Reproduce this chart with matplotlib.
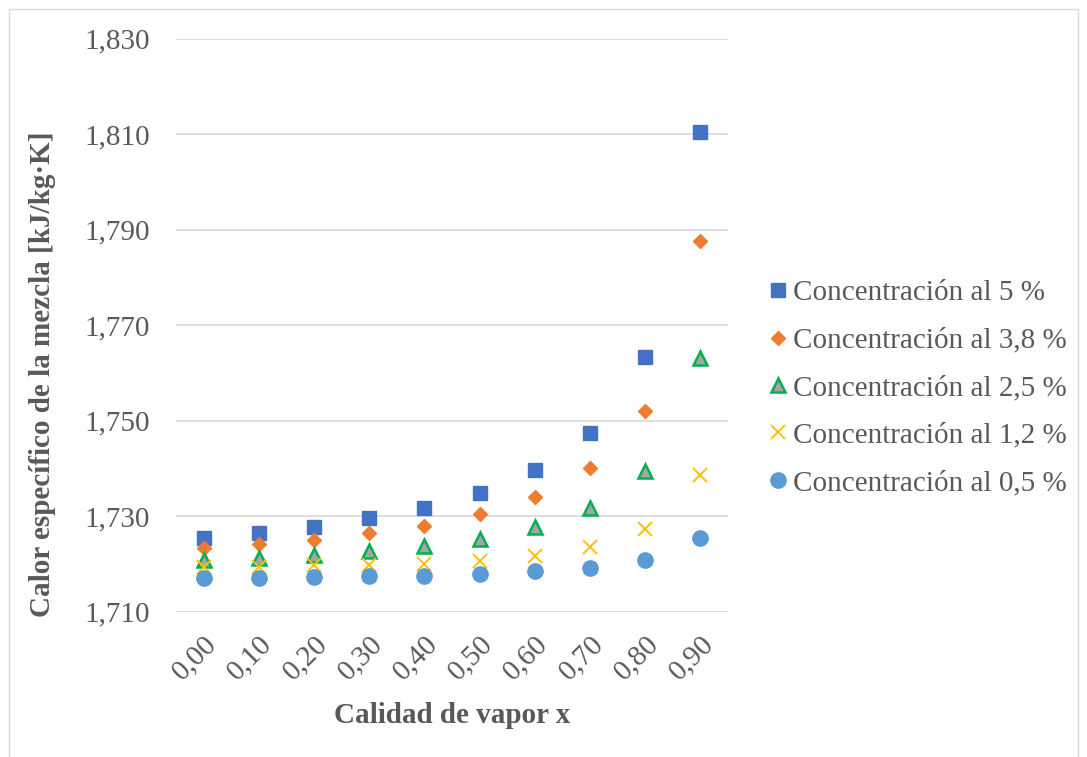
import numpy as np
import matplotlib.pyplot as plt
from matplotlib.patches import Rectangle

plt.rcParams['font.family'] = ['Liberation Serif', 'DejaVu Serif']

# Calidad de vapor (categorias del eje x)
calidad = ['0,00', '0,10', '0,20', '0,30', '0,40', '0,50', '0,60', '0,70', '0,80', '0,90']

# Calor especifico de la mezcla [kJ/kg K]
cp_5 = [1.7255, 1.7265, 1.7278, 1.7295, 1.7317, 1.7349, 1.7397, 1.7475, 1.7633, 1.8105]
cp_38 = [1.7233, 1.7241, 1.7250, 1.7264, 1.7279, 1.7304, 1.7339, 1.7400, 1.7519, 1.7877]
cp_25 = [1.7208, 1.7212, 1.7219, 1.7227, 1.7238, 1.7253, 1.7278, 1.7316, 1.7395, 1.7630]
cp_12 = [1.7193, 1.7193, 1.7198, 1.7198, 1.7199, 1.7206, 1.7216, 1.7235, 1.7273, 1.7386]
cp_05 = [1.7170, 1.7170, 1.7172, 1.7174, 1.7175, 1.7179, 1.7184, 1.7192, 1.7207, 1.7255]

yticks = [1.710, 1.730, 1.750, 1.770, 1.790, 1.810, 1.830]

x = np.arange(len(calidad))
gray = '#595959'

fig = plt.figure(figsize=(10.87, 7.57), dpi=100)
ax = fig.add_axes([0.1619, 0.1921, 0.5078, 0.757])

ax.plot(x, cp_5, ls='none', marker='s', ms=10.5, color='#4472C4', label='Concentración al 5 %')
ax.plot(x, cp_38, ls='none', marker='D', ms=7.5, color='#ED7D31', label='Concentración al 3,8 %')
ax.plot(x, cp_25, ls='none', marker='^', ms=10, mfc='#A5A5A5', mec='#00B050', mew=1.8,
        label='Concentración al 2,5 %')
ax.plot(x, cp_12, ls='none', marker='x', ms=9.5, mew=1.4, color='#FFC000', label='Concentración al 1,2 %')
ax.plot(x, cp_05, ls='none', marker='o', ms=11, color='#5B9BD5', label='Concentración al 0,5 %')

ax.set_xlim(-0.5, len(calidad) - 0.5)
ax.set_ylim(1.710, 1.830)
ax.set_xticks(x)
ax.set_xticklabels(calidad, rotation=45, ha='right', rotation_mode='anchor')
ax.set_yticks(yticks)
ax.set_yticklabels([f'{v:.3f}'.replace('.', ',') for v in yticks])
ax.tick_params(length=0, labelsize=21, colors=gray)
ax.tick_params(axis='y', pad=19)
ax.tick_params(axis='x', pad=14)

ax.grid(axis='y', color='#D9D9D9', lw=1.2)
ax.set_axisbelow(True)
for s in ax.spines.values():
    s.set_visible(False)

ax.set_xlabel('Calidad de vapor x', fontsize=21, fontweight='bold', color=gray, labelpad=12)
ax.set_ylabel('Calor específico de la mezcla [kJ/kg·K]', fontsize=21, fontweight='bold',
              color=gray)
ax.yaxis.set_label_coords(-0.217, 0.415)

leg = ax.legend(loc='center left', bbox_to_anchor=(0.705, 0.4875), bbox_transform=fig.transFigure,
                frameon=False, fontsize=21, handlelength=0.8, handletextpad=0.1,
                labelspacing=0.72, borderaxespad=0, borderpad=0)
for t in leg.get_texts():
    t.set_color(gray)

# borde del area del grafico
fig.patches.append(Rectangle((0.0083, -0.01), 0.983, 0.998, transform=fig.transFigure,
                             fill=False, ec='#D9D9D9', lw=1))

plt.savefig('out.png', dpi=100)
